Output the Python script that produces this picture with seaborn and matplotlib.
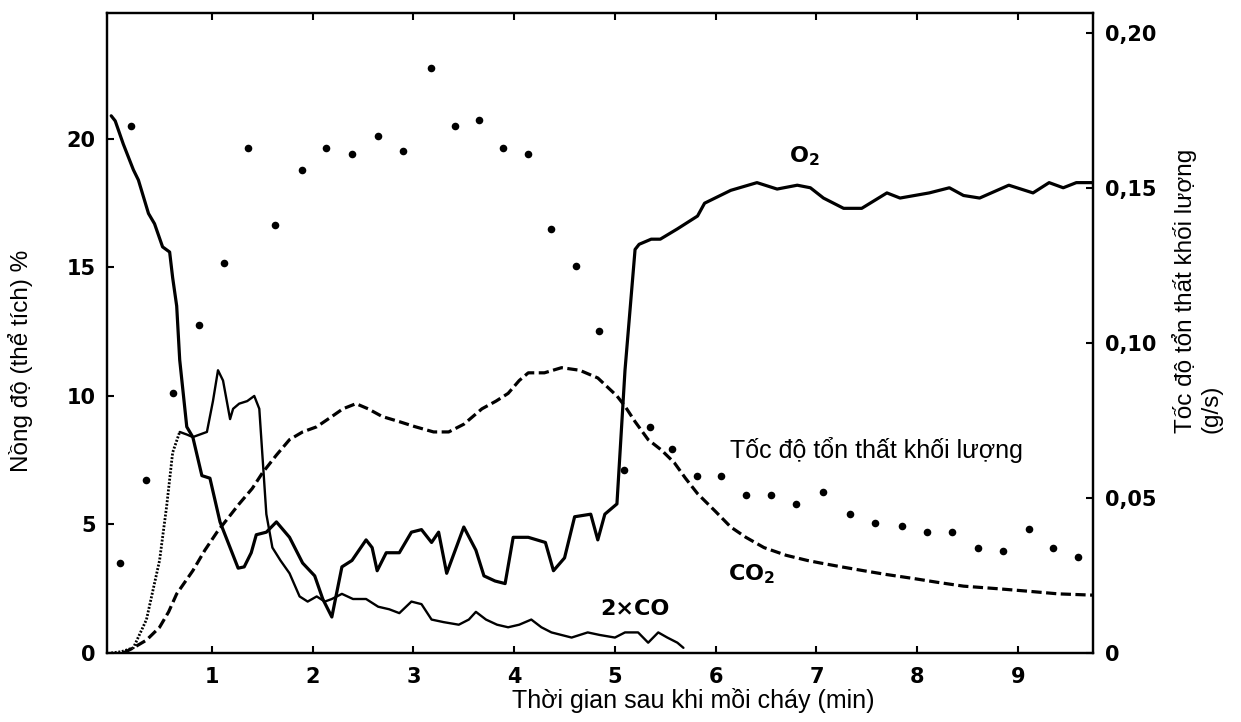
import matplotlib
matplotlib.use("Agg")
import matplotlib.pyplot as plt
import seaborn as sns

# time after ignition (min) vs gas concentration (% by volume)
o2_t = [0, 0.04, 0.12, 0.22, 0.27, 0.37, 0.43, 0.51, 0.58, 0.61, 0.65, 0.68, 0.75, 0.81,
        0.9, 0.98, 1.08, 1.18, 1.26, 1.32, 1.39, 1.44, 1.54, 1.64, 1.77, 1.9, 2.02, 2.1,
        2.19, 2.29, 2.39, 2.53, 2.59, 2.64, 2.73, 2.86, 2.98, 3.08, 3.18, 3.25, 3.33, 3.5,
        3.62, 3.7, 3.81, 3.91, 3.99, 4.14, 4.31, 4.39, 4.5, 4.6, 4.76, 4.83, 4.9, 5.02,
        5.1, 5.2, 5.24, 5.36, 5.45, 5.62, 5.82, 5.89, 6.15, 6.41, 6.61, 6.81, 6.94, 7.07,
        7.27, 7.45, 7.7, 7.83, 8.12, 8.32, 8.46, 8.62, 8.91, 9.15, 9.31, 9.45, 9.58, 9.745]
o2_c = [20.9, 20.7, 19.8, 18.8, 18.4, 17.1, 16.7, 15.8, 15.6, 14.6, 13.5, 11.4, 8.8, 8.4,
        6.9, 6.8, 5.1, 4.1, 3.3, 3.35, 3.9, 4.6, 4.7, 5.1, 4.5, 3.5, 3.0, 2.1,
        1.4, 3.35, 3.6, 4.4, 4.1, 3.2, 3.9, 3.9, 4.7, 4.8, 4.3, 4.7, 3.1, 4.9,
        4.0, 3.0, 2.8, 2.7, 4.5, 4.5, 4.3, 3.2, 3.7, 5.3, 5.4, 4.4, 5.4, 5.8,
        11.0, 15.7, 15.9, 16.1, 16.1, 16.5, 17.0, 17.5, 18.0, 18.3, 18.05, 18.2, 18.1, 17.7,
        17.3, 17.3, 17.9, 17.7, 17.9, 18.1, 17.8, 17.7, 18.2, 17.9, 18.3, 18.1, 18.3, 18.3]

co2_t = [0.12, 0.22, 0.35, 0.48, 0.57, 0.65, 0.81, 0.93, 1.05, 1.17, 1.27, 1.4, 1.5, 1.64,
         1.77, 1.9, 2.04, 2.19, 2.3, 2.43, 2.55, 2.69, 2.86, 3.02, 3.2, 3.35, 3.5, 3.68,
         3.82, 3.94, 4.05, 4.14, 4.3, 4.47, 4.65, 4.83, 5.02, 5.1, 5.2, 5.33, 5.46, 5.59,
         5.7, 5.82, 6.0, 6.15, 6.3, 6.48, 6.7, 6.91, 7.04, 7.25, 7.47, 7.7, 7.96, 8.2,
         8.46, 8.8, 9.11, 9.4, 9.745]
co2_c = [0, 0.2, 0.5, 1.0, 1.6, 2.3, 3.2, 4.0, 4.7, 5.3, 5.8, 6.4, 7.0, 7.7,
         8.3, 8.6, 8.8, 9.2, 9.5, 9.7, 9.5, 9.2, 9.0, 8.8, 8.6, 8.6, 8.9, 9.5,
         9.8, 10.1, 10.6, 10.9, 10.9, 11.1, 11.0, 10.7, 10.0, 9.6, 9.0, 8.3, 7.9, 7.4,
         6.8, 6.2, 5.5, 4.9, 4.5, 4.1, 3.8, 3.6, 3.5, 3.35, 3.2, 3.05, 2.9, 2.75,
         2.6, 2.5, 2.4, 2.3, 2.25]

# twice the CO concentration
co_t = [0, 0.1, 0.22, 0.35, 0.48, 0.55, 0.61, 0.68, 0.75, 0.81, 0.88, 0.95, 1.01, 1.06,
        1.11, 1.18, 1.21, 1.27, 1.35, 1.42, 1.47, 1.54, 1.6, 1.68, 1.77, 1.87, 1.95, 2.04,
        2.12, 2.19, 2.29, 2.4, 2.53, 2.65, 2.76, 2.86, 2.98, 3.08, 3.18, 3.3, 3.45, 3.55,
        3.62, 3.72, 3.83, 3.94, 4.05, 4.17, 4.27, 4.37, 4.57, 4.73, 4.85, 5.0, 5.1, 5.23,
        5.33, 5.43, 5.52, 5.62, 5.68]
co_c = [0, 0.05, 0.2, 1.3, 3.6, 5.7, 7.8, 8.6, 8.5, 8.4, 8.5, 8.6, 9.8, 11.0,
        10.6, 9.1, 9.5, 9.7, 9.8, 10.0, 9.5, 5.4, 4.1, 3.6, 3.1, 2.2, 2.0, 2.2,
        2.0, 2.1, 2.3, 2.1, 2.1, 1.8, 1.7, 1.55, 2.0, 1.9, 1.3, 1.2, 1.1, 1.3,
        1.6, 1.3, 1.1, 1.0, 1.1, 1.3, 1.0, 0.8, 0.6, 0.8, 0.7, 0.6, 0.8, 0.8,
        0.4, 0.8, 0.6, 0.4, 0.2]
co_rise_end = 8  # first points of the CO trace are printed dotted

# mass loss rate (g/s), right axis
mlr_t = [0.09, 0.2, 0.35, 0.61, 0.87, 1.12, 1.36, 1.63, 1.89, 2.13, 2.39, 2.65, 2.9, 3.17,
         3.41, 3.65, 3.89, 4.14, 4.37, 4.61, 4.84, 5.09, 5.35, 5.57, 5.81, 6.05, 6.3, 6.55,
         6.8, 7.07, 7.33, 7.58, 7.85, 8.1, 8.35, 8.6, 8.85, 9.11, 9.35, 9.6]
mlr_v = [0.029, 0.170, 0.056, 0.084, 0.106, 0.126, 0.163, 0.138, 0.156, 0.163, 0.161, 0.167,
         0.162, 0.189, 0.170, 0.172, 0.163, 0.161, 0.137, 0.125, 0.104, 0.059, 0.073, 0.066,
         0.057, 0.057, 0.051, 0.051, 0.048, 0.052, 0.045, 0.042, 0.041, 0.039, 0.039, 0.034,
         0.033, 0.040, 0.034, 0.031]

x_ticks = [1, 2, 3, 4, 5, 6, 7, 8, 9]
left_ticks = [0, 5, 10, 15, 20]
right_ticks = [0, 0.05, 0.10, 0.15, 0.20]
right_tick_labels = ["0", "0,05", "0,10", "0,15", "0,20"]

sns.set_style("ticks")
plt.rcParams["font.family"] = ["Liberation Sans", "DejaVu Sans"]
plt.rcParams["mathtext.default"] = "regular"
plt.rcParams.update({"text.color": "black", "axes.labelcolor": "black",
                     "xtick.color": "black", "ytick.color": "black",
                     "lines.solid_joinstyle": "round", "lines.dash_joinstyle": "round"})

fig = plt.figure(figsize=(12.41, 7.22), dpi=100)
ax = fig.add_axes([0.0862, 0.0956, 0.7945, 0.8864])
ax2 = ax.twinx()

sns.lineplot(x=o2_t, y=o2_c, ax=ax, color="black", lw=2.3, estimator=None, sort=False)
sns.lineplot(x=co2_t, y=co2_c, ax=ax, color="black", lw=2.3, estimator=None, sort=False,
             linestyle=(0, (3.2, 1.4)))
sns.lineplot(x=co_t[:co_rise_end], y=co_c[:co_rise_end], ax=ax, color="black", lw=2.0,
             estimator=None, sort=False, linestyle=(0, (0.7, 0.6)))
sns.lineplot(x=co_t[co_rise_end - 1:], y=co_c[co_rise_end - 1:], ax=ax, color="black",
             lw=1.7, estimator=None, sort=False)
sns.scatterplot(x=mlr_t, y=mlr_v, ax=ax2, color="black", s=30, linewidth=0, zorder=3)

ax.set_xlim(-0.042, 9.745)
ax.set_ylim(0, 24.9)
ax2.set_ylim(0, 0.2066)

tick_font = dict(family="DejaVu Sans", fontweight="bold", fontsize=15)
ax.set_xticks(x_ticks, [str(v) for v in x_ticks], **tick_font)
ax.set_yticks(left_ticks, [str(v) for v in left_ticks], **tick_font)
ax2.set_yticks(right_ticks, right_tick_labels, **tick_font)

ax.tick_params(axis="x", direction="in", length=5, width=1.5, pad=10, top=True)
ax.tick_params(axis="y", direction="in", length=5, width=1.5, pad=8, right=False)
ax2.tick_params(axis="y", direction="in", length=5, width=1.5, pad=9)
for a in (ax, ax2):
    for s in a.spines.values():
        s.set_linewidth(1.6)
        s.set_color("black")

ax.set_xlabel("Thời gian sau khi mồi cháy (min)", fontsize=18)
ax.xaxis.set_label_coords(0.595, -0.055)
ax.set_ylabel("Nồng độ (thể tích) %", fontsize=17.5)
ax.yaxis.set_label_coords(-0.075, 0.456)
ax2.set_ylabel("Tốc độ tổn thất khối lượng\n(g/s)", fontsize=17.5, multialignment="left")
ax2.yaxis.set_label_coords(1.080, 0.566)

note_font = dict(family="DejaVu Sans", fontweight="bold", fontsize=16, va="baseline")
ax.text(6.73, 19.1, "O$_2$", **note_font)
ax.text(6.12, 2.84, "CO$_2$", **note_font)
ax.text(4.85, 1.48, "2×CO", **note_font)
ax.text(6.14, 7.6, "Tốc độ tổn thất khối lượng", fontsize=18, va="baseline")

fig.savefig("out.png", dpi=100)
